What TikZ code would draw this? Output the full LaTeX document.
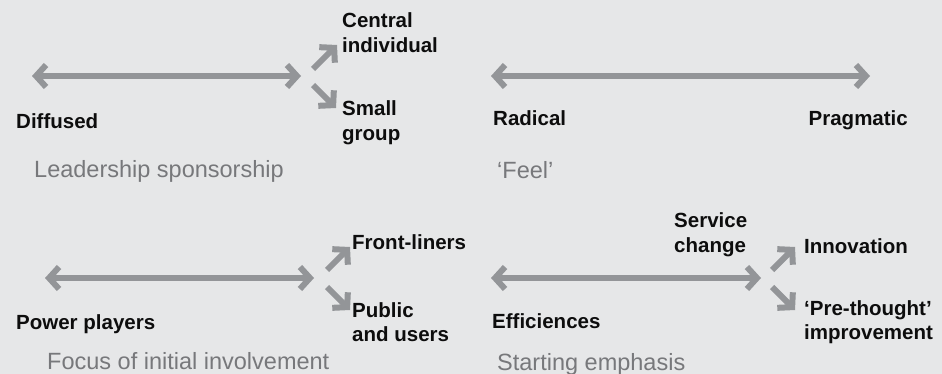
\documentclass[tikz,border=0pt]{standalone}
\usepackage{fontspec}
\setmainfont{Liberation Sans}
\usetikzlibrary{arrows.meta}
\definecolor{bgc}{HTML}{E6E7E8}
\definecolor{arrc}{HTML}{939598}
\definecolor{capc}{HTML}{77787B}
\definecolor{txtc}{HTML}{0D0D0D}
\tikzset{
  arr/.style={draw=arrc, line width=6pt,
    arrows={Straight Barb[length=10pt,width=22pt]-Straight Barb[length=10pt,width=22pt]}},
  diag/.style={draw=arrc, line width=6pt, -{Straight Barb[length=10pt,width=22pt]}},
  lbl/.style={inner sep=0pt, anchor=base west, text=txtc,
    font=\fontsize{20.5}{24.5}\selectfont\bfseries},
  captxt/.style={inner sep=0pt, anchor=base west, text=capc,
    font=\fontsize{23.5}{27}\selectfont},
}
\newcommand{\twoline}[2]{\begin{tabular}[t]{@{}l@{}}#1\\#2\end{tabular}}
\begin{document}
\begin{tikzpicture}[x=1pt,y=-1pt]
\fill[bgc] (0,0) rectangle (942,374);
\useasboundingbox (0,0) rectangle (942,374);

% Panel 1: Leadership sponsorship
\coordinate (p1l) at (32,76);
\coordinate (p1r) at (301,76);
\coordinate (p1ua) at (313,69);
\coordinate (p1ub) at (337,45);
\coordinate (p1da) at (313,85);
\coordinate (p1db) at (336,108);
\draw[arr] (p1l) -- (p1r);
\draw[diag] (p1ua) -- (p1ub);
\draw[diag] (p1da) -- (p1db);
\node[lbl] (central) at (342,28) {\twoline{Central}{individual}};
\node[lbl] (small) at (342,116) {\twoline{Small}{group}};
\node[lbl] (diffused) at (16,129) {Diffused};
\node[captxt] (leader) at (34,178) {Leadership sponsorship};

% Panel 2: Feel
\coordinate (p2l) at (491,76);
\coordinate (p2r) at (870,76);
\draw[arr] (p2l) -- (p2r);
\node[lbl] (radical) at (493,126) {Radical};
\node[lbl, anchor=base east] (pragmatic) at (908,126) {Pragmatic};
\node[captxt] (feel) at (497,179) {‘Feel’};

% Panel 3: Focus of initial involvement
\coordinate (p3l) at (45,278);
\coordinate (p3r) at (314,278);
\coordinate (p3ua) at (327,270);
\coordinate (p3ub) at (350,247);
\coordinate (p3da) at (327,287);
\coordinate (p3db) at (350,310);
\draw[arr] (p3l) -- (p3r);
\draw[diag] (p3ua) -- (p3ub);
\draw[diag] (p3da) -- (p3db);
\node[lbl] (front) at (352,249) {Front-liners};
\node[lbl] (public) at (352,317) {\twoline{Public}{and users}};
\node[lbl] (power) at (16,329) {Power players};
\node[captxt] (focus) at (47,369) {Focus of initial involvement};

% Panel 4: Starting emphasis
\coordinate (p4l) at (491,278);
\coordinate (p4r) at (761,278);
\coordinate (p4ua) at (772,270);
\coordinate (p4ub) at (795,247);
\coordinate (p4da) at (772,287);
\coordinate (p4db) at (795,310);
\draw[arr] (p4l) -- (p4r);
\draw[diag] (p4ua) -- (p4ub);
\draw[diag] (p4da) -- (p4db);
\node[lbl] (service) at (674,228) {\twoline{Service}{change}};
\node[lbl] (innov) at (804,253) {Innovation};
\node[lbl] (prethought) at (804,315) {\twoline{‘Pre-thought’}{improvement}};
\node[lbl] (effic) at (492,328) {Efficiences};
\node[captxt] (starting) at (497,370) {Starting emphasis};
\end{tikzpicture}
\end{document}
